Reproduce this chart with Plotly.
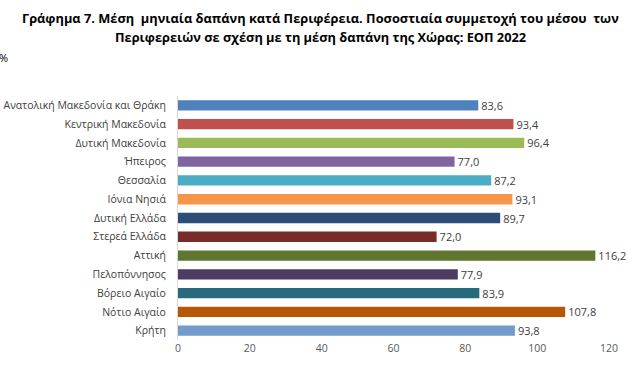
import plotly.graph_objects as go

regions = ["Ανατολική Μακεδονία και Θράκη", "Κεντρική Μακεδονία", "Δυτική Μακεδονία",
           "Ήπειρος", "Θεσσαλία", "Ιόνια Νησιά", "Δυτική Ελλάδα", "Στερεά Ελλάδα",
           "Αττική", "Πελοπόννησος", "Βόρειο Αιγαίο", "Νότιο Αιγαίο", "Κρήτη"]
values = [83.6, 93.4, 96.4, 77.0, 87.2, 93.1, 89.7, 72.0, 116.2, 77.9, 83.9, 107.8, 93.8]
colors = ["#4F81BD", "#C0504D", "#9BBB59", "#8064A2", "#4BACC6", "#F79646", "#2C4D75",
          "#772C2A", "#5F7530", "#4D3B62", "#276A7C", "#B65708", "#729ACA"]
tick_vals = [0, 20, 40, 60, 80, 100, 120]

labels = [f"{v:.1f}".replace(".", ",") for v in values]

W, H = 636, 374
L, R, T, B = 178, 27, 96, 34

fig = go.Figure(go.Bar(
    y=regions, x=values, orientation="h",
    marker=dict(color=colors, line=dict(width=0)),
    text=labels, textposition="outside", cliponaxis=False, constraintext="none",
    textfont=dict(family="Open Sans", size=11, color="#404040"),
    width=0.55, hoverinfo="skip",
))

fig.update_layout(
    width=W, height=H,
    margin=dict(l=L, r=R, t=T, b=B, autoexpand=False),
    paper_bgcolor="white", plot_bgcolor="white",
    showlegend=False,
    font=dict(family="Open Sans", color="#404040"),
    xaxis=dict(range=[0, 120], tickvals=tick_vals, showgrid=False, zeroline=False,
               showline=False, ticks="", automargin=False,
               tickfont=dict(size=10.5, color="#595959")),
    yaxis=dict(categoryorder="array", categoryarray=regions, autorange="reversed",
               showgrid=False, ticks="", showline=True, linecolor="#D9D9D9", linewidth=1,
               automargin=False, ticklabelstandoff=9,
               tickfont=dict(size=10.5, color="#404040")),
    bargap=0.45,
)

title_lines = ["<b>Γράφημα 7. Μέση  μηνιαία δαπάνη κατά Περιφέρεια. Ποσοστιαία συμμετοχή του μέσου  των</b>",
               "<b>Περιφερειών σε σχέση με τη μέση δαπάνη της Χώρας: ΕΟΠ 2022</b>"]
for i, line in enumerate(title_lines):
    fig.add_annotation(text=line, xref="paper", yref="paper",
                       x=(320 - L) / (W - L - R), y=(H - B - (18 + 19 * i)) / (H - T - B),
                       showarrow=False, xanchor="center", yanchor="middle",
                       font=dict(family="Open Sans", size=12.8, color="#000000"))

fig.add_annotation(text="%", xref="paper", yref="paper",
                   x=(-3 - L) / (W - L - R), y=(H - B - 57) / (H - T - B),
                   showarrow=False, xanchor="left", yanchor="middle",
                   font=dict(size=11, color="#000000"))

fig.write_html("out.html", config={"displayModeBar": False, "staticPlot": True},
               post_script="document.body.style.margin='0';document.body.style.overflow='hidden';")
